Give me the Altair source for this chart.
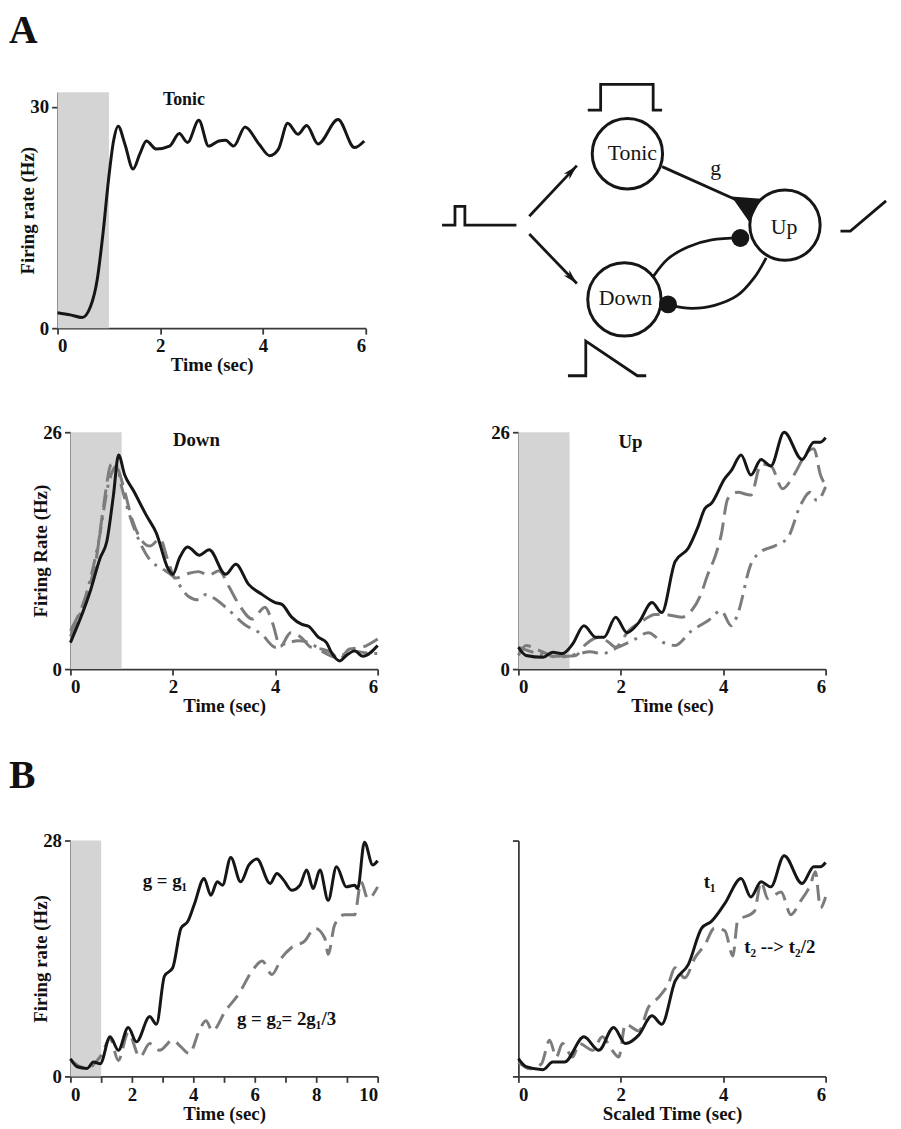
import math
import altair as alt
import pandas as pd

SERIF = "Liberation Serif"
BLACK = "#161616"
GRAY = "#7c7c7c"
SHADE = "#d4d4d4"
AXC = "#3a3a3a"

# ---------------- data ----------------
SHADE_T = [0, 1]

TONIC_T = [0, 0.25, 0.48, 0.64, 0.77, 0.89, 0.99, 1.09, 1.18, 1.31, 1.47, 1.6, 1.73, 1.92, 2.18,
           2.37, 2.53, 2.75, 2.94, 3.14, 3.27, 3.43, 3.65, 3.92, 4.13, 4.3, 4.48, 4.68, 4.85,
           5.07, 5.46, 5.78, 5.97]
TONIC_R = [2.1, 1.8, 1.45, 2.9, 6.5, 13.2, 20, 25.4, 27.4, 25, 21.6, 23.6, 25.4, 24.3, 24.7,
           26.4, 25.2, 28.2, 24.7, 25.4, 25.5, 24.7, 27.3, 25, 23.4, 24.3, 27.8, 26.3, 27.5,
           25, 28.3, 24.5, 25.4]

DOWN_T = [0, 0.39, 0.58, 0.71, 0.84, 0.94, 1.06, 1.23, 1.48, 1.68, 1.9, 2.0, 2.13, 2.29, 2.52,
          2.71, 3.03, 3.23, 3.48, 3.74, 4.0, 4.13, 4.32, 4.52, 4.65, 4.84, 5.0, 5.1, 5.26, 5.39,
          5.55, 5.71, 6.0]
DOWN_R = [2.9, 8.6, 12.2, 14.0, 19.1, 23.5, 21.3, 19.6, 16.9, 14.9, 11.1, 10.4, 12.2, 13.4, 12.5,
          13.1, 10.4, 11.5, 9.3, 8.2, 7.3, 7.1, 5.7, 4.9, 4.7, 3.5, 2.9, 1.8, 0.9, 1.5,
          2.0, 1.4, 2.6]
DOWN_DASH_T = [0, 0.3, 0.5, 0.65, 0.8, 0.92, 1.06, 1.2, 1.35, 1.55, 1.75, 1.9, 2.05, 2.3, 2.5,
               2.7, 2.9, 3.1, 3.3, 3.55, 3.8, 3.95, 4.1, 4.3, 4.5, 4.7, 4.9, 5.1, 5.25, 5.45,
               5.7, 6.0]
DOWN_DASH_R = [4.2, 8, 12, 18, 22.5, 22, 19.5, 16.5, 14.5, 13.5, 14.3, 12, 10, 10.5, 10.7,
               10.3, 10.8, 9, 7, 5.5, 6.8, 5, 2.5, 4, 3.5, 2.4, 2.2, 1.8, 1.1, 2.2,
               2.4, 3.3]
DOWN_DOT_T = [0, 0.3, 0.55, 0.75, 0.9, 1.0, 1.15, 1.35, 1.55, 1.8, 2.0, 2.3, 2.5, 2.65, 2.8,
              3.05, 3.4, 3.74, 4.0, 4.2, 4.45, 4.7, 4.9, 5.2, 5.5, 5.75, 6.0]
DOWN_DOT_R = [3.6, 8, 14, 20.5, 22.3, 20, 17, 14, 12, 11, 10.2, 8.0, 7.6, 8.2, 7.8,
              6.7, 4.9, 3.8, 2.4, 2.8, 3.1, 2.8, 2.0, 1.3, 2.0, 1.8, 1.7]

UP_T = [0, 0.15, 0.48, 0.67, 0.86, 1.06, 1.28, 1.51, 1.67, 1.9, 2.12, 2.35, 2.61, 2.8, 3.06,
        3.32, 3.5, 3.64, 3.77, 4.03, 4.16, 4.35, 4.54, 4.74, 4.93, 5.19, 5.54, 5.77, 5.9, 6.0]
UP_R = [2.4, 1.5, 1.3, 1.85, 1.7, 2.75, 4.75, 3.5, 3.5, 5.7, 4.0, 5.1, 7.3, 6.2, 11.8,
        13.3, 15.5, 17.6, 18.2, 20.9, 21.8, 23.5, 21.3, 23.0, 22.3, 26.0, 23.0, 24.9, 24.9, 25.4]
UP_DASH_T = [0, 0.15, 0.35, 0.55, 0.75, 0.95, 1.12, 1.32, 1.57, 1.75, 1.9, 2.15, 2.4, 2.67, 2.85,
             3.19, 3.38, 3.55, 3.7, 3.85, 3.96, 4.09, 4.28, 4.54, 4.74, 4.93, 5.16, 5.38, 5.64,
             5.77, 5.9, 6.0]
UP_DASH_R = [1.5, 2.6, 2.2, 1.7, 1.3, 1.4, 1.5, 2.75, 3.5, 3.0, 2.4, 4.2, 5.2, 6.0, 6.0,
             5.7, 6.4, 8.0, 10.4, 12.5, 14.7, 18.7, 19.4, 19.1, 22.5, 22.3, 19.8, 21.3, 23.8,
             24.2, 21.3, 20.2]
UP_DOT_T = [0, 0.2, 0.45, 0.7, 0.95, 1.12, 1.4, 1.64, 1.95, 2.22, 2.54, 2.8, 3.06, 3.38, 3.7,
            3.96, 4.16, 4.28, 4.54, 4.74, 5.0, 5.26, 5.51, 5.7, 5.83, 6.0]
UP_DOT_R = [2.4, 2.0, 1.6, 1.4, 1.5, 1.6, 1.9, 1.7, 2.4, 3.1, 4.0, 3.0, 2.6, 4.2, 5.3,
            6.4, 4.75, 6.0, 11.5, 12.9, 13.5, 14.4, 18.0, 19.4, 18.5, 20.0]

G1_T = [0, 0.22, 0.54, 0.75, 0.97, 1.29, 1.56, 1.88, 2.15, 2.58, 2.8, 3.06, 3.33, 3.6, 3.82,
        4.03, 4.35, 4.57, 4.78, 4.95, 5.22, 5.54, 5.81, 6.07, 6.5, 6.72, 6.94, 7.2, 7.47, 7.69,
        7.9, 8.12, 8.39, 8.66, 8.98, 9.25, 9.35, 9.57, 9.84, 10]
G1_R = [2.1, 1.15, 0.95, 1.7, 1.5, 4.7, 3.1, 5.8, 4.1, 7.1, 6.2, 11.9, 12.9, 17.6, 18.4,
        20.4, 23.5, 21.5, 23.1, 22.7, 26.0, 23.1, 25.1, 25.8, 22.9, 24.1, 23.3, 22.1, 22.7, 24.5,
        22.3, 24.5, 20.9, 24.9, 22.5, 22.7, 22.3, 27.8, 25.1, 25.6]
G2_T = [0, 0.3, 0.6, 0.8, 1.0, 1.29, 1.56, 1.88, 2.26, 2.58, 2.9, 3.33, 3.6, 3.87, 4.19, 4.41,
        4.62, 5.05, 5.48, 5.91, 6.24, 6.56, 6.88, 7.2, 7.63, 7.96, 8.28, 8.39, 8.6, 8.92, 9.25,
        9.46, 9.68, 10]
G2_R = [2.0, 1.2, 1.0, 1.6, 2.5, 4.5, 1.9, 5.2, 2.3, 3.9, 3.1, 4.3, 3.5, 2.7, 5.4, 6.6,
        5.4, 7.8, 9.8, 12.5, 13.7, 12.1, 14.1, 15.3, 16.1, 17.6, 16.4, 14.5, 18.0, 19.2, 19.2,
        23.1, 21.1, 22.5]

S1_T = [0, 0.15, 0.48, 0.67, 0.9, 1.28, 1.57, 1.86, 2.09, 2.35, 2.61, 2.8, 3.06, 3.32, 3.58,
        3.77, 4.03, 4.35, 4.54, 4.74, 4.93, 5.19, 5.54, 5.77, 5.9, 6.0]
S1_R = [2.1, 1.15, 0.8, 1.7, 1.7, 4.7, 3.1, 5.8, 3.9, 4.9, 7.2, 6.2, 11.3, 13.3, 17.6,
        18.4, 20.5, 23.5, 21.3, 23.1, 22.5, 26.2, 22.9, 24.9, 24.9, 25.4]
S2_T = [0, 0.23, 0.45, 0.61, 0.74, 0.86, 1.06, 1.19, 1.45, 1.64, 1.83, 1.96, 2.09, 2.35, 2.54,
        2.74, 2.93, 3.06, 3.25, 3.45, 3.64, 3.83, 4.03, 4.19, 4.28, 4.61, 4.74, 4.87, 5.13,
        5.32, 5.51, 5.7, 5.8, 5.9, 6.0]
S2_R = [1.7, 0.9, 1.5, 4.3, 2.3, 3.9, 2.3, 3.9, 3.1, 4.7, 3.1, 2.3, 6.2, 5.4, 8.2,
        9.4, 11.0, 12.9, 11.7, 14.1, 15.6, 17.6, 17.3, 14.3, 18.4, 19.6, 23.1, 21.1, 21.9,
        19.2, 20.8, 22.7, 24.3, 20.0, 21.3]

# diagram (in diagram units)
PULSE_IN_X = [445, 458, 458, 468, 468, 520]
PULSE_IN_Y = [224, 224, 205, 205, 224, 224]
PULSE_TOP_X = [592, 605, 605, 658, 658, 667]
PULSE_TOP_Y = [108, 108, 82, 82, 108, 108]
RAMP_X = [572, 590, 590, 642, 651]
RAMP_Y = [376, 376, 341, 376, 376]
OUT_X = [847, 857, 893]
OUT_Y = [230, 230, 199.5]
ARROW_UP_X = [533, 581]
ARROW_UP_Y = [215, 164]
ARROW_DN_X = [533, 581]
ARROW_DN_Y = [233, 283]
G_LINE_X = [667, 745]
G_LINE_Y = [165, 200]
CURVE1_X = [658, 673, 693, 717, 746]
CURVE1_Y = [276, 258, 246, 239, 237]
CURVE2_X = [772, 760, 743, 720, 697, 675]
CURVE2_Y = [257, 277, 295, 305, 308, 305]
NODE_X = [632, 629, 791]
NODE_Y = [152, 299, 224]
NODE_D = [71, 74, 71]
NODE_LABEL = ["Tonic", "Down", "Up"]
NODE_LABEL_X = [637, 630, 790]
NODE_LABEL_Y = [151, 298, 226]
DOT_X = [746, 673]
DOT_Y = [237, 304]
TRI_X = [752]
TRI_Y = [206.5]
G_LABEL_X = [721]
G_LABEL_Y = [166]

DASH = [18, 8]
DASHDOT = [16, 7, 3, 7]


def ax(values, title, **kw):
    base = dict(values=values, title=title, grid=False, domainColor=AXC, domainWidth=1.8,
                tickColor=AXC, tickWidth=1.8, tickSize=6, labelFont=SERIF, labelFontSize=19,
                labelFontWeight="bold", labelColor="#111111", labelPadding=3,
                titleFont=SERIF, titleFontSize=19, titleFontWeight="bold",
                titleColor="#111111")
    base.update(kw)
    return alt.Axis(**base)


def panel(xdom, xvals, xtitle, ydom, yvals, ytitle, series, xrange=None, yrange=None,
          shade=True, labels=(), letter=None, xkw=None, ykw=None, width=310, height=238):
    xkw = xkw or {}
    ykw = ykw or {}
    xsk = dict(domain=xdom, nice=False, zero=False)
    if xrange is not None:
        xsk["range"] = xrange
    ysk = dict(domain=ydom, nice=False, zero=False)
    if yrange is not None:
        ysk["range"] = yrange
    xs = alt.Scale(**xsk)
    ys = alt.Scale(**ysk)

    def X(f):
        return alt.X(f"{f}:Q", scale=xs, axis=ax(xvals, xtitle, **xkw))

    def Y(f):
        return alt.Y(f"{f}:Q", scale=ys, axis=ax(yvals, ytitle, **ykw))

    layers = []
    if shade:
        sd = pd.DataFrame({"t0": [SHADE_T[0]], "t1": [SHADE_T[1]],
                           "lo": [ydom[0]], "hi": [ydom[1]]})
        layers.append(alt.Chart(sd).mark_rect(color=SHADE).encode(
            x=X("t0"), x2="t1", y=Y("lo"), y2="hi"))
    for t, r, color, dash in series:
        kw = dict(color=color, strokeWidth=3, interpolate="monotone")
        if dash:
            kw["strokeDash"] = dash
        layers.append(alt.Chart(pd.DataFrame({"t": t, "r": r})).mark_line(**kw).encode(
            x=X("t"), y=Y("r")))
    for lt, lr, txt, fs, baseline, align in labels:
        layers.append(alt.Chart(pd.DataFrame({"t": [lt], "r": [lr], "txt": [txt]})).mark_text(
            font=SERIF, fontSize=fs, fontWeight="bold", color="#111111",
            baseline=baseline, align=align).encode(x=X("t"), y=Y("r"), text="txt:N"))
    if letter is not None:
        txt, px, py = letter
        layers.append(alt.Chart(pd.DataFrame({"txt": [txt]})).mark_text(
            font=SERIF, fontSize=40, fontWeight="bold", color="#111111",
            baseline="top", align="left").encode(
            x=alt.value(px), y=alt.value(py), text="txt:N"))
    return alt.layer(*layers).properties(width=width, height=height)


# ---------------- panels ----------------
tonic = panel([0, 6], [0, 2, 4, 6], "Time (sec)", [0, 32], [0, 30], "Firing rate (Hz)",
              [(TONIC_T, TONIC_R, BLACK, None)], xrange=[-13, 298],
              labels=[(2.46, 30.9, "Tonic", 18, "middle", "center")],
              letter=("A", -62, -82),
              xkw=dict(titlePadding=0), ykw=dict(offset=13, titlePadding=-8))

down = panel([0, 6], [0, 2, 4, 6], "Time (sec)", [0, 26], [0, 26], "Firing Rate (Hz)",
             [(DOWN_DOT_T, DOWN_DOT_R, GRAY, DASHDOT), (DOWN_DASH_T, DOWN_DASH_R, GRAY, DASH),
              (DOWN_T, DOWN_R, BLACK, None)],
             labels=[(2.46, 25.1, "Down", 19, "middle", "center")],
             xkw=dict(titlePadding=0), ykw=dict(titlePadding=-8), height=239)

up = panel([0, 6], [0, 2, 4, 6], "Time (sec)", [0, 26], [0, 26], "",
           [(UP_DOT_T, UP_DOT_R, GRAY, DASHDOT), (UP_DASH_T, UP_DASH_R, GRAY, DASH),
            (UP_T, UP_R, BLACK, None)],
           labels=[(2.19, 24.9, "Up", 19, "middle", "center")],
           xkw=dict(titlePadding=0), height=239)

# row 3 cells are taller; their plots occupy the lower part of the cell
B_H = 306
B_TOP = 68
bl = panel([0, 10], list(range(11)), "Time (sec)", [0, 28], [0, 28], "Firing rate (Hz)",
           [(G2_T, G2_R, GRAY, [16, 8]), (G1_T, G1_R, BLACK, None)],
           yrange=[B_H, B_TOP], height=B_H,
           labels=[(2.35, 22.5, "g = g\u2081", 19, "alphabetic", "left"),
                   (5.42, 6.1, "g = g\u2082= 2g\u2081/3", 19, "alphabetic", "left")],
           letter=("B", -62, -17),
           xkw=dict(titlePadding=0,
                    labelExpr="datum.value % 2 == 0 ? datum.label : ''"),
           ykw=dict(titlePadding=-8))

br = panel([0, 6], [0, 2, 4, 6], "Scaled Time (sec)", [0, 28], [0, 28], "",
           [(S2_T, S2_R, GRAY, [16, 8]), (S1_T, S1_R, BLACK, None)], shade=False,
           yrange=[B_H, B_TOP], height=B_H,
           labels=[(3.62, 22.35, "t\u2081", 19, "alphabetic", "left"),
                   (4.41, 14.7, "t\u2082 --> t\u2082/2", 19, "alphabetic", "left")],
           xkw=dict(titlePadding=0), ykw=dict(labels=False))

# ---------------- diagram ----------------
DX = alt.Scale(domain=[440, 893], range=[-82, 371], nice=False, zero=False)
DY = alt.Scale(domain=[90, 328], nice=False, zero=False, reverse=True)


def dx(f="x"):
    return alt.X(f"{f}:Q", scale=DX, axis=None)


def dy(f="y"):
    return alt.Y(f"{f}:Q", scale=DY, axis=None)


def polys(items):
    rows = []
    for name, xs, ys in items:
        for i, (a, b) in enumerate(zip(xs, ys)):
            rows.append({"seg": name, "i": i, "x": a, "y": b})
    return pd.DataFrame(rows)


straight = polys([("in", PULSE_IN_X, PULSE_IN_Y), ("top", PULSE_TOP_X, PULSE_TOP_Y),
                  ("ramp", RAMP_X, RAMP_Y), ("out", OUT_X, OUT_Y),
                  ("aup", ARROW_UP_X, ARROW_UP_Y), ("adn", ARROW_DN_X, ARROW_DN_Y),
                  ("g", G_LINE_X, G_LINE_Y)])
curves = polys([("c1", CURVE1_X, CURVE1_Y), ("c2", CURVE2_X, CURVE2_Y)])


def heading(xs, ys):
    ddx = xs[-1] - xs[-2]
    ddy = ys[-1] - ys[-2]
    return math.degrees(math.atan2(ddx, -ddy)) % 360


heads = pd.DataFrame({"x": [ARROW_UP_X[-1], ARROW_DN_X[-1]],
                      "y": [ARROW_UP_Y[-1], ARROW_DN_Y[-1]],
                      "a": [heading(ARROW_UP_X, ARROW_UP_Y), heading(ARROW_DN_X, ARROW_DN_Y)]})
nodes = pd.DataFrame({"x": NODE_X, "y": NODE_Y, "s": [d * d for d in NODE_D]})
node_txt = pd.DataFrame({"x": NODE_LABEL_X, "y": NODE_LABEL_Y, "txt": NODE_LABEL})
dots = pd.DataFrame({"x": DOT_X, "y": DOT_Y})
tri = pd.DataFrame({"x": TRI_X, "y": TRI_Y})
glab = pd.DataFrame({"x": G_LABEL_X, "y": G_LABEL_Y, "txt": ["g"]})

diagram = alt.layer(
    alt.Chart(straight).mark_line(color=BLACK, strokeWidth=2.8, interpolate="linear").encode(
        x=dx(), y=dy(), detail="seg:N", order="i:Q"),
    alt.Chart(curves).mark_line(color=BLACK, strokeWidth=2.8, interpolate="cardinal").encode(
        x=dx(), y=dy(), detail="seg:N", order="i:Q"),
    alt.Chart(nodes).mark_point(shape="circle", filled=True, fill="white", stroke=BLACK,
                                strokeWidth=3, opacity=1).encode(
        x=dx(), y=dy(), size=alt.Size("s:Q", scale=None, legend=None)),
    alt.Chart(dots).mark_point(shape="circle", filled=True, color=BLACK, size=324,
                               opacity=1).encode(x=dx(), y=dy()),
    alt.Chart(tri).mark_point(shape="M-1,-0.75 L1,-0.6 L0.2,0.95 Z", filled=True,
                              color=BLACK, size=900, opacity=1).encode(x=dx(), y=dy()),
    alt.Chart(heads).mark_point(shape="M0,0 L0.5,1.9 L0,1.4 L-0.5,1.9 Z", filled=True,
                                color=BLACK, size=250, opacity=1).encode(
        x=dx(), y=dy(), angle=alt.Angle("a:Q", scale=None)),
    alt.Chart(node_txt).mark_text(font=SERIF, fontSize=22, color=BLACK, baseline="middle",
                                  align="center").encode(x=dx(), y=dy(), text="txt:N"),
    alt.Chart(glab).mark_text(font=SERIF, fontSize=22, color=BLACK, baseline="middle",
                              align="center").encode(x=dx(), y=dy(), text="txt:N"),
).properties(width=371, height=238)

# ---------------- layout ----------------
chart = alt.concat(tonic, diagram, down, up, bl, br, columns=2,
                   spacing={"row": 105, "column": 142}, bounds="flush").properties(
    padding={"left": 0, "top": -3, "right": 0, "bottom": 0}
).configure(font=SERIF).configure_view(stroke="transparent")

chart.save("out.html", embed_options={"renderer": "svg", "actions": False})
